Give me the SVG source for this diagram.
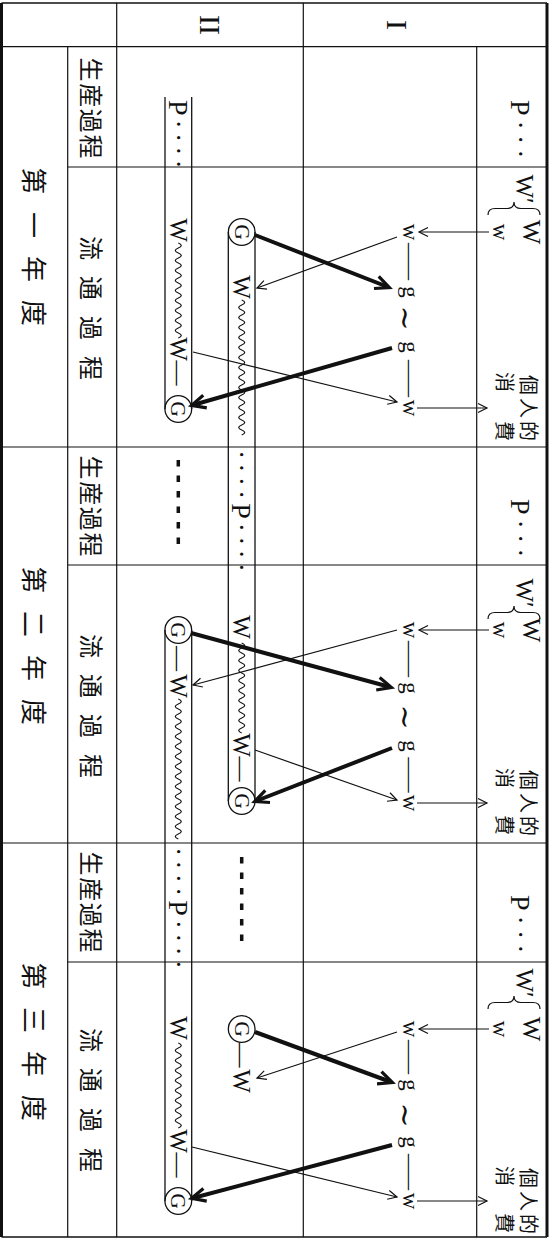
<svg xmlns="http://www.w3.org/2000/svg" width="553" height="1239" viewBox="0 0 553 1239">
<style>
.ln{stroke:#111;stroke-width:1.2;fill:none}
.bd{stroke:#111;stroke-width:3;fill:none}
.cap{stroke:#111;stroke-width:1.3;fill:none}
.wv{stroke:#111;stroke-width:1.2;fill:none}
.thin{stroke:#111;stroke-width:1.2;fill:none;marker-end:url(#ah)}
.thick{stroke:#111;stroke-width:4;fill:none;marker-end:url(#aT)}
.dl{stroke:#111;stroke-width:3.5;stroke-dasharray:6.5 9;fill:none}
text{fill:#111}
.s{font-family:"Liberation Serif","Times New Roman",serif}
.c{font-family:"Noto Sans CJK JP","Noto Sans CJK SC",sans-serif}
.m{text-anchor:middle}
.lw{font-size:25px}
.lg{font-size:21px}
.lp{font-size:28px;letter-spacing:4px}
.ch{font-size:23px}
.yl{font-size:26px}
.pl{font-size:24px}
.cs{font-size:20px}
.tl{font-family:"DejaVu Serif",serif;font-size:30px}
</style>
<defs>
<marker id="ah" markerUnits="userSpaceOnUse" orient="auto" refX="0" refY="0" markerWidth="20" markerHeight="20" style="overflow:visible"><path d="M-9,-4.5 L0,0 L-9,4.5" fill="none" stroke="#111" stroke-width="1.2"/></marker>
<marker id="aT" markerUnits="userSpaceOnUse" orient="auto" refX="-1.5" refY="0" markerWidth="30" markerHeight="30" style="overflow:visible"><path d="M-14,-6.5 L0,0 L-14,6.5" fill="none" stroke="#111" stroke-width="3.2"/></marker>
</defs>
<g transform="translate(553,0) rotate(90)">
<g id="table">
<line class="bd" x1="3" y1="6" x2="1237" y2="6"/>
<line class="bd" x1="3" y1="551.5" x2="1237" y2="551.5"/>
<line class="ln" x1="3" y1="6" x2="3" y2="551.5" style="stroke-width:1.6"/>
<line class="ln" x1="1237" y1="6" x2="1237" y2="551.5" style="stroke-width:1.6"/>
<line class="ln" x1="46.7" y1="6" x2="46.7" y2="551.5"/>
<line class="ln" x1="46.7" y1="76.3" x2="1237" y2="76.3"/>
<line class="ln" x1="3" y1="249.7" x2="1237" y2="249.7"/>
<line class="ln" x1="3" y1="436.3" x2="1237" y2="436.3"/>
<line class="ln" x1="46.7" y1="485.3" x2="1237" y2="485.3"/>
<line class="ln" x1="447" y1="6" x2="447" y2="551.5"/>
<line class="ln" x1="843" y1="6" x2="843" y2="551.5"/>
<line class="ln" x1="167" y1="6" x2="167" y2="485.3"/>
<line class="ln" x1="565" y1="6" x2="565" y2="485.3"/>
<line class="ln" x1="962" y1="6" x2="962" y2="485.3"/>
</g>
<g id="headers">
<text class="s m" x="25" y="353" font-size="30">II</text>
<text class="s m" x="25" y="166" font-size="30">I</text>
<text class="c m yl" x="181 225 269 313" y="528.7">第一年度</text>
<text class="c m yl" x="580 624 668 712" y="528.7">第二年度</text>
<text class="c m yl" x="976 1020 1064 1108" y="528.7">第三年度</text>
<text class="c m pl" x="69.5 95.2 120.8 146.5" y="470.6">生産過程</text>
<text class="c m pl" x="467.5 493.2 518.8 544.5" y="470.6">生産過程</text>
<text class="c m pl" x="863.5 889.2 914.8 940.5" y="470.6">生産過程</text>
<text class="c m pl" x="248 288 328 368" y="470.6">流通過程</text>
<text class="c m pl" x="646 686 726 766" y="470.6">流通過程</text>
<text class="c m pl" x="1040 1080 1120 1160" y="470.6">流通過程</text>
</g>
<g id="I-year1">
<text class="s" x="100" y="42.3" font-size="28" letter-spacing="5">P···</text>
<text class="s m" x="189" y="37" font-size="25">W′</text>
<path class="ln" d="M215,13 Q208.5,13 208.5,20 L208.5,32 Q208.5,39 202,39 Q208.5,39 208.5,46 L208.5,58 Q208.5,65 215,65"/>
<text class="s m" x="232" y="30.5" font-size="26">W</text>
<text class="s m ch" x="232" y="60.5">w</text>
<text class="s m ch" x="232" y="150">w</text>
<text class="s m ch" x="261.5" y="150" textLength="37" lengthAdjust="spacingAndGlyphs">—</text>
<text class="s m ch" x="292" y="150">g</text>
<text class="tl m" x="318" y="158">∼</text>
<text class="s m ch" x="347" y="150">g</text>
<text class="s m ch" x="378.5" y="150" textLength="37" lengthAdjust="spacingAndGlyphs">—</text>
<text class="s m ch" x="408" y="150">w</text>
<text class="c m cs" x="385 408 431" y="32.1">個人的</text>
<text class="c m cs" x="382 431" y="56.1">消費</text>
</g>
<g id="I-year2">
<text class="s" x="499" y="42.3" font-size="28" letter-spacing="5">P···</text>
<text class="s m" x="593" y="37" font-size="25">W′</text>
<path class="ln" d="M619,13 Q612.5,13 612.5,20 L612.5,32 Q612.5,39 606,39 Q612.5,39 612.5,46 L612.5,58 Q612.5,65 619,65"/>
<text class="s m" x="630" y="30.5" font-size="26">W</text>
<text class="s m ch" x="630" y="60.5">w</text>
<text class="s m ch" x="630" y="150">w</text>
<text class="s m ch" x="659" y="150" textLength="36" lengthAdjust="spacingAndGlyphs">—</text>
<text class="s m ch" x="688" y="150">g</text>
<text class="tl m" x="717" y="158">∼</text>
<text class="s m ch" x="746" y="150">g</text>
<text class="s m ch" x="775" y="150" textLength="35" lengthAdjust="spacingAndGlyphs">—</text>
<text class="s m ch" x="803" y="150">w</text>
<text class="c m cs" x="780 803 826" y="32.1">個人的</text>
<text class="c m cs" x="778 825" y="56.1">消費</text>
</g>
<g id="I-year3">
<text class="s" x="895" y="42.3" font-size="28" letter-spacing="5">P···</text>
<text class="s m" x="983" y="37" font-size="25">W′</text>
<path class="ln" d="M1009,13 Q1002.5,13 1002.5,20 L1002.5,32 Q1002.5,39 996,39 Q1002.5,39 1002.5,46 L1002.5,58 Q1002.5,65 1009,65"/>
<text class="s m" x="1029" y="30.5" font-size="26">W</text>
<text class="s m ch" x="1029" y="60.5">w</text>
<text class="s m ch" x="1029" y="150">w</text>
<text class="s m ch" x="1057" y="150" textLength="34" lengthAdjust="spacingAndGlyphs">—</text>
<text class="s m ch" x="1085" y="150">g</text>
<text class="tl m" x="1115" y="158">∼</text>
<text class="s m ch" x="1142" y="150">g</text>
<text class="s m ch" x="1172" y="150" textLength="36" lengthAdjust="spacingAndGlyphs">—</text>
<text class="s m ch" x="1201" y="150">w</text>
<text class="c m cs" x="1178 1201 1224" y="32.1">個人的</text>
<text class="c m cs" x="1176 1223" y="56.1">消費</text>
</g>
<g id="II-capsule1">
<line class="cap" x1="97" y1="361.3" x2="409" y2="361.3"/>
<line class="cap" x1="97" y1="388" x2="409" y2="388"/>
<circle class="cap" cx="409" cy="374.7" r="13.35"/>
<text class="s lp" x="100" y="384">P····</text>
<text class="s m lw" x="230" y="383">W</text>
<path class="wv" d="M243,374.7q2.5,-6 5,0t5,0t5,0t5,0t5,0t5,0t5,0t5,0t5,0t5,0t5,0t5,0t5,0t5,0t5,0t5,0t5,0t5,0t5,0"/>
<text class="s m lw" x="349" y="383">W</text>
<text class="s m lw" x="373" y="383">—</text>
<text class="s m lg" x="409" y="381.7">G</text>
</g>
<g id="II-capsule2">
<line class="cap" x1="232" y1="298" x2="801" y2="298"/>
<line class="cap" x1="232" y1="324.7" x2="801" y2="324.7"/>
<circle class="cap" cx="232" cy="311.3" r="13.35"/>
<circle class="cap" cx="801" cy="311.3" r="13.35"/>
<text class="s m lg" x="232" y="318.3">G</text>
<text class="s m lw" x="287" y="319.6">W</text>
<path class="wv" d="M300,311.3q2.5,-6 5,0t5,0t5,0t5,0t5,0t5,0t5,0t5,0t5,0t5,0t5,0t5,0t5,0t5,0t5,0t5,0t5,0t5,0t5,0t5,0t5,0t5,0t5,0t5,0t5,0t5,0t5,0"/>
<text class="s lp" x="450" y="320.6">····P····</text>
<text class="s m lw" x="627" y="319.6">W</text>
<path class="wv" d="M643,311.3q2.5,-6 5,0t5,0t5,0t5,0t5,0t5,0t5,0t5,0t5,0t5,0t5,0t5,0t5,0t5,0t5,0t5,0t5,0t5,0"/>
<text class="s m lw" x="745" y="319.6">W</text>
<text class="s m lw" x="769" y="319.6">—</text>
<text class="s m lg" x="801" y="318.3">G</text>
</g>
<g id="II-dash-year2">
<line class="dl" x1="460" y1="374.7" x2="544" y2="374.7"/>
</g>
<g id="II-capsule3">
<line class="cap" x1="630" y1="361.3" x2="1201" y2="361.3"/>
<line class="cap" x1="630" y1="388" x2="1201" y2="388"/>
<circle class="cap" cx="630" cy="374.7" r="13.35"/>
<circle class="cap" cx="1201" cy="374.7" r="13.35"/>
<text class="s m lg" x="630" y="381.7">G</text>
<text class="s m lw" x="658.5" y="383">—</text>
<text class="s m lw" x="686" y="383">W</text>
<path class="wv" d="M699,374.7q2.5,-6 5,0t5,0t5,0t5,0t5,0t5,0t5,0t5,0t5,0t5,0t5,0t5,0t5,0t5,0t5,0t5,0t5,0t5,0t5,0t5,0t5,0t5,0t5,0t5,0t5,0t5,0t5,0t5,0"/>
<text class="s lp" x="847" y="384">····P····</text>
<text class="s m lw" x="1028" y="383">W</text>
<path class="wv" d="M1043,374.7q2.5,-6 5,0t5,0t5,0t5,0t5,0t5,0t5,0t5,0t5,0t5,0t5,0t5,0t5,0t5,0t5,0t5,0t5,0"/>
<text class="s m lw" x="1141" y="383">W</text>
<text class="s m lw" x="1165" y="383">—</text>
<text class="s m lg" x="1201" y="381.7">G</text>
</g>
<g id="II-dash-year3">
<line class="dl" x1="857" y1="311.3" x2="941" y2="311.3"/>
</g>
<g id="II-GW-year3">
<circle class="cap" cx="1029" cy="311.3" r="13.35"/>
<text class="s m lg" x="1029" y="318.3">G</text>
<text class="s m lw" x="1055" y="319.6">—</text>
<text class="s m lw" x="1081" y="319.6">W</text>
</g>
<g id="connectors">
<line class="thin" x1="232" y1="64" x2="232" y2="134"/>
<line class="thin" x1="408" y1="136" x2="408" y2="66"/>
<line class="thin" x1="630" y1="64" x2="630" y2="134"/>
<line class="thin" x1="803" y1="136" x2="803" y2="66"/>
<line class="thin" x1="1029" y1="64" x2="1029" y2="134"/>
<line class="thin" x1="1201" y1="136" x2="1201" y2="66"/>
<line class="thick" x1="235" y1="298" x2="287" y2="165"/>
<line class="thin" x1="237" y1="156" x2="288" y2="296"/>
<line class="thick" x1="348" y1="161" x2="405" y2="360"/>
<line class="thin" x1="352" y1="360" x2="402" y2="156"/>
<line class="thick" x1="633" y1="362" x2="687" y2="163"/>
<line class="thin" x1="630" y1="156" x2="685" y2="360"/>
<line class="thick" x1="748" y1="161" x2="801" y2="297"/>
<line class="thin" x1="750" y1="298" x2="800" y2="156"/>
<line class="thick" x1="1032" y1="298" x2="1082" y2="162"/>
<line class="thin" x1="1032" y1="156" x2="1078" y2="296"/>
<line class="thick" x1="1145" y1="161" x2="1198" y2="360"/>
<line class="thin" x1="1147" y1="361" x2="1197" y2="156"/>
</g>
</g>
</svg>
